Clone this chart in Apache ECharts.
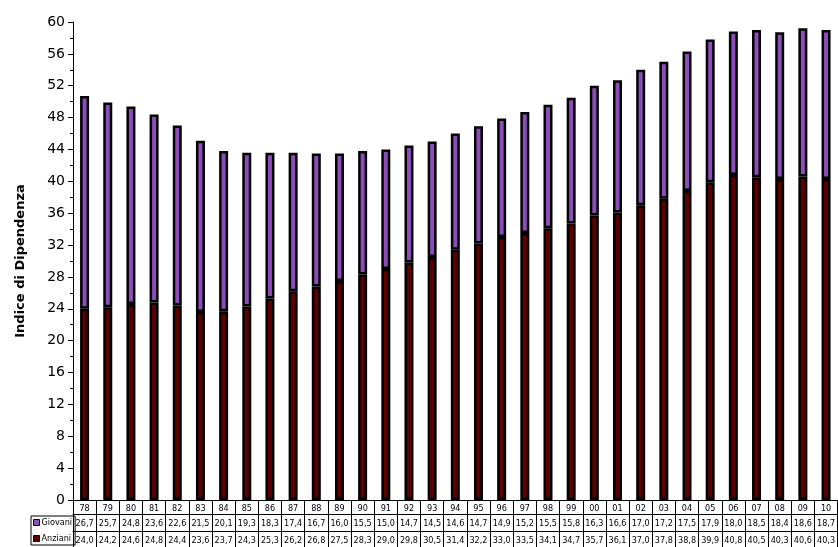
<!DOCTYPE html>
<html><head><meta charset="utf-8">
<script src="https://cdn.jsdelivr.net/npm/echarts@6/dist/echarts.min.js"></script>
<style>html,body{margin:0;padding:0;background:#fff}#c{width:838px;height:547px}</style>
</head><body><div id="c"></div>
<script>
const years = ['78','79','80','81','82','83','84','85','86','87','88','89','90','91','92','93','94','95','96','97','98','99','00','01','02','03','04','05','06','07','08','09','10'];
const giovani = [26.7,25.7,24.8,23.6,22.6,21.5,20.1,19.3,18.3,17.4,16.7,16.0,15.5,15.0,14.7,14.5,14.6,14.7,14.9,15.2,15.5,15.8,16.3,16.6,17.0,17.2,17.5,17.9,18.0,18.5,18.4,18.6,18.7];
const anziani = [24.0,24.2,24.6,24.8,24.4,23.6,23.7,24.3,25.3,26.2,26.8,27.5,28.3,29.0,29.8,30.5,31.4,32.2,33.0,33.5,34.1,34.7,35.7,36.1,37.0,37.8,38.8,39.9,40.8,40.5,40.3,40.6,40.3];
const yTicks = {min:0, max:60, interval:4};

const fmt = v => v.toFixed(1).replace('.', ',');
const font = 'DejaVu Sans, Verdana, sans-serif';
const cond = 'DejaVu Sans Condensed, Liberation Sans Narrow, sans-serif';
const purple = '#8c4db8', maroon = '#5e0000';

function tableAxis(offset, labels, tickLen, margin) {
  return {
    type:'category', data: labels, position:'bottom', offset: offset, gridIndex:0,
    boundaryGap:true,
    axisLine:{show:true, lineStyle:{color:'#000', width:1}},
    axisTick:{show:true, inside:false, length:tickLen, lineStyle:{color:'#000', width:1}},
    axisLabel:{show:true, interval:0, margin:margin, fontSize:9, color:'#000', fontFamily:cond},
    splitLine:{show:false}
  };
}

const chart = echarts.init(document.getElementById('c'));
chart.setOption({
  animation:false,
  backgroundColor:'#fff',
  grid:{left:73, top:22, width:768, bottom:47, containLabel:false},
  legend:{
    data:['Giovani','Anziani'], orient:'vertical', left:31, top:516,
    itemWidth:6, itemHeight:6, itemGap:5, padding:[1,3,1,2],
    icon:'rect', borderColor:'#000', borderWidth:1,
    itemStyle:{borderColor:'#000', borderWidth:1},
    textStyle:{fontSize:9, fontFamily:cond, color:'#000', padding:[0,0,0,-3], lineHeight:11},
    selectedMode:false
  },
  xAxis:[
    tableAxis(0, years, 14, 4),
    tableAxis(14, giovani.map(fmt), 17, 5),
    tableAxis(31, anziani.map(fmt), 17, 5)
  ],
  yAxis:{
    type:'value', min:yTicks.min, max:yTicks.max, interval:yTicks.interval,
    name:'Indice di Dipendenza', nameLocation:'middle', nameGap:46,
    nameTextStyle:{fontSize:13, fontWeight:'bold', fontFamily:font, color:'#000'},
    axisLine:{show:true, lineStyle:{color:'#000', width:1}},
    axisTick:{show:true, length:5, lineStyle:{color:'#000'}},
    minorTick:{show:true, splitNumber:2, length:3, lineStyle:{color:'#000'}},
    axisLabel:{fontSize:14, color:'#000', fontFamily:font, margin:8},
    splitLine:{show:false}
  },
  series:[
    {name:'Anziani', type:'bar', stack:'t', data:anziani, barWidth:9, xAxisIndex:0,
     itemStyle:{color:maroon, borderColor:'#000', borderWidth:2.5}},
    {name:'Giovani', type:'bar', stack:'t', data:giovani, barWidth:9, xAxisIndex:0,
     itemStyle:{color:purple, borderColor:'#000', borderWidth:2.5}}
  ]
});
</script></body></html>
